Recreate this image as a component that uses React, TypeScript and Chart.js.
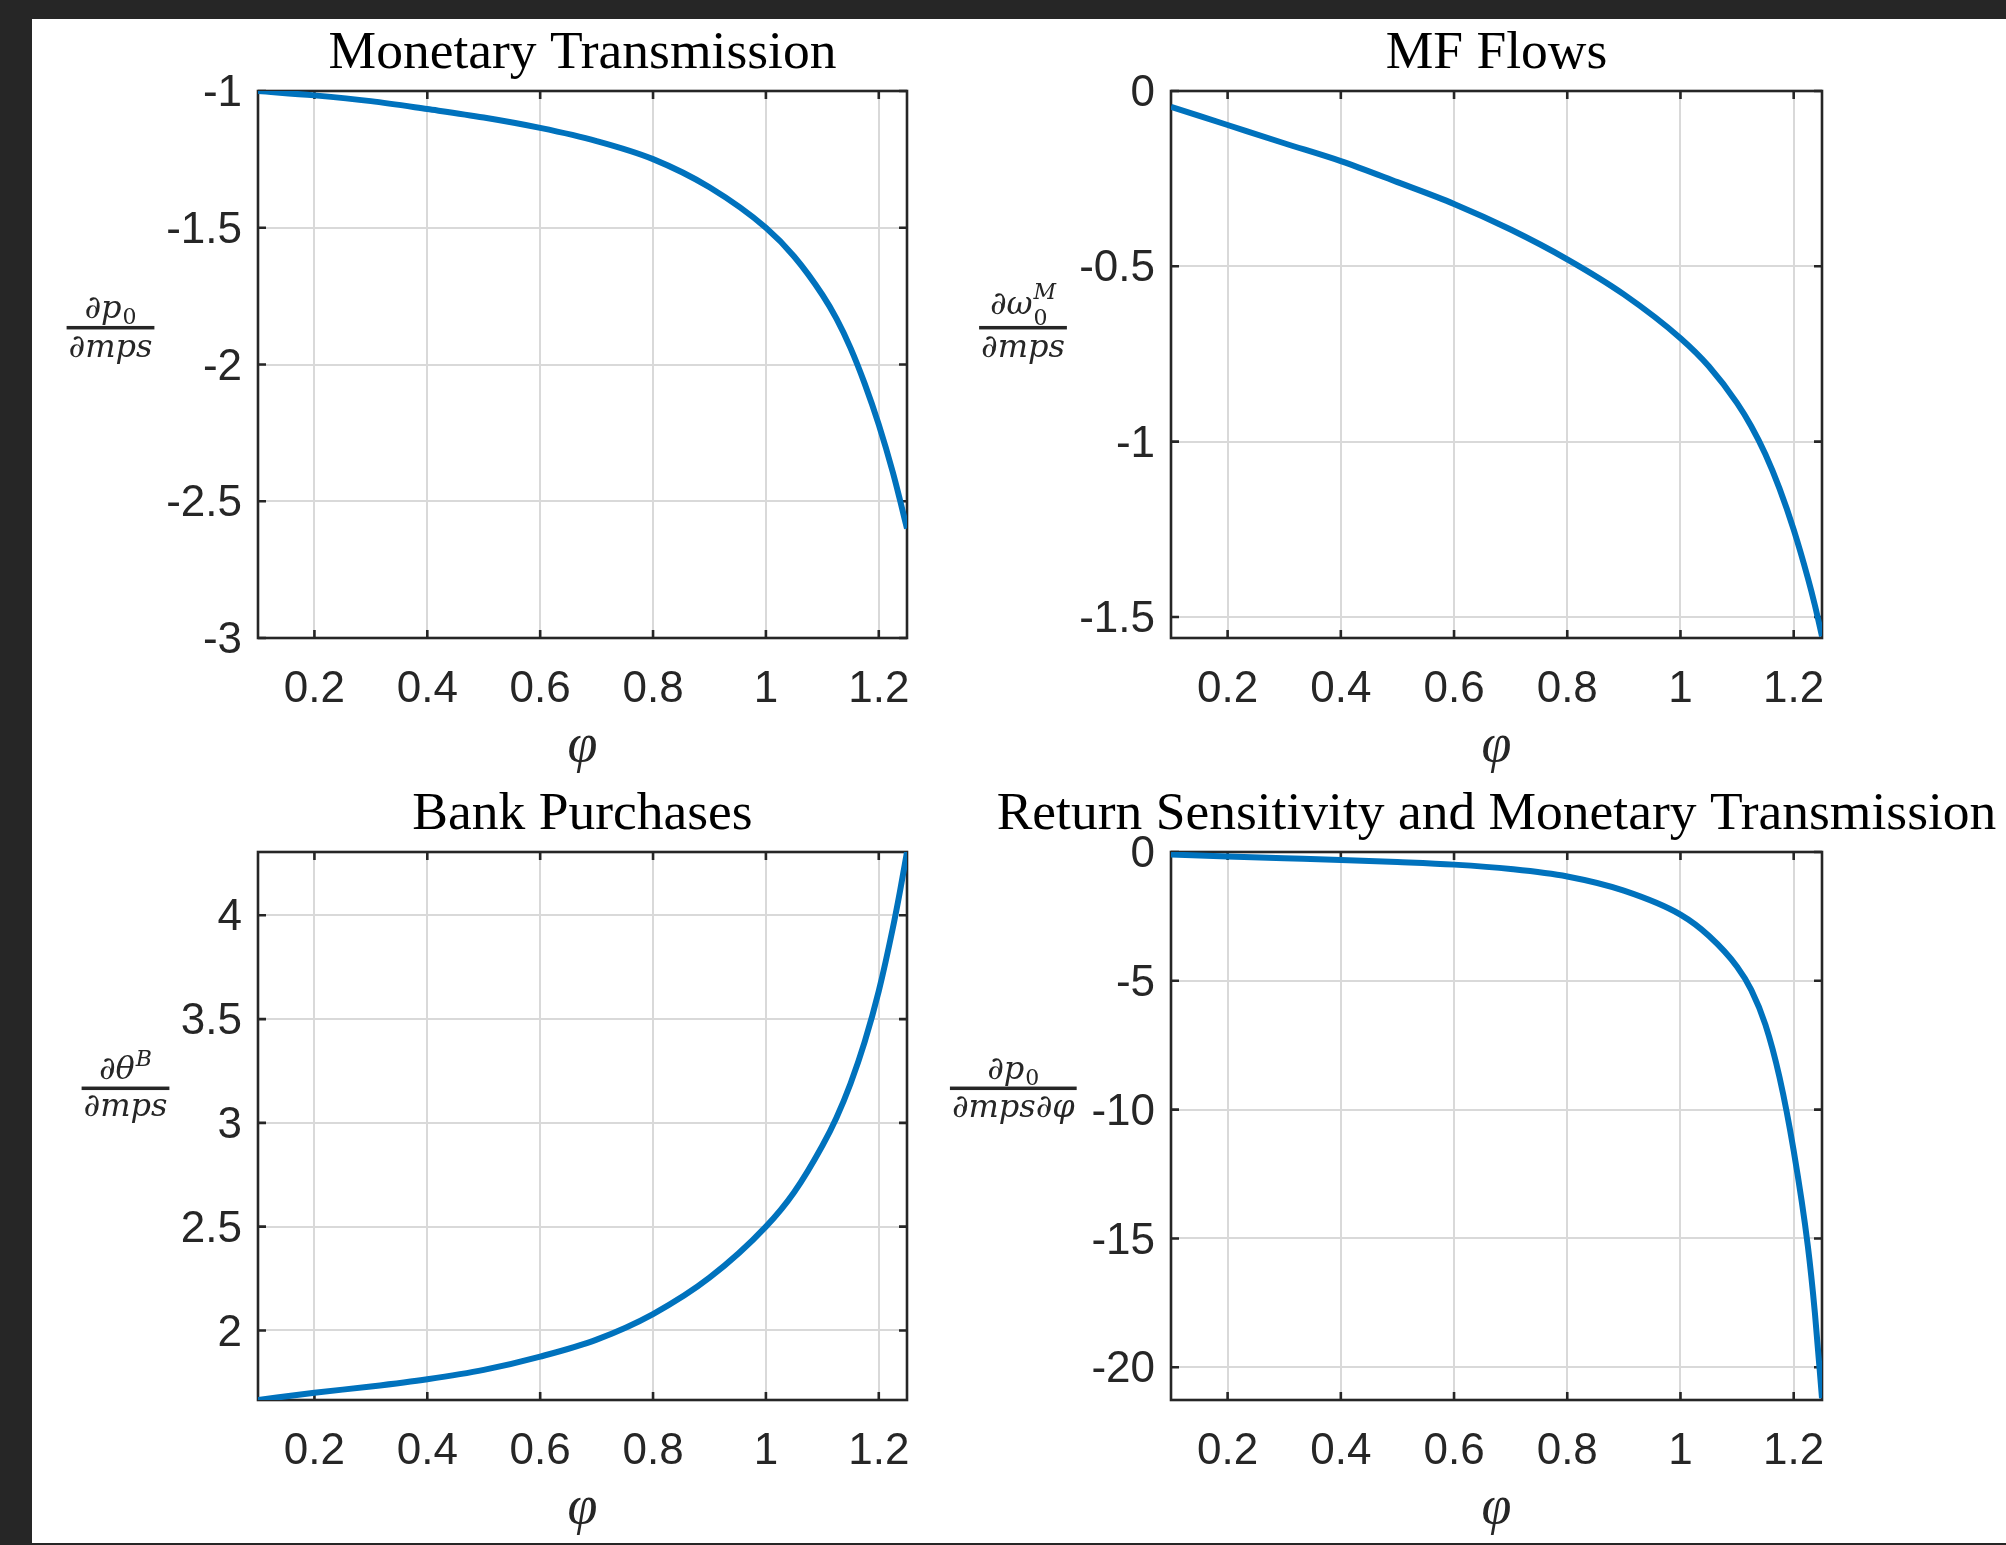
import React, { useEffect, useRef } from 'react';
import { Chart, registerables } from 'chart.js';

Chart.register(...registerables);

// ---------------- data ----------------
const phi = [0.1, 0.2, 0.3, 0.4, 0.5, 0.6, 0.7, 0.8, 0.9, 1.0, 1.05, 1.1, 1.125, 1.15, 1.175, 1.2, 1.225, 1.2375, 1.25];
const monetaryTransmission = [-1.0, -1.016, -1.037, -1.066, -1.097, -1.135, -1.183, -1.249, -1.352, -1.5, -1.605, -1.745, -1.8325, -1.94, -2.07, -2.22, -2.395, -2.495, -2.6];
const mfFlows = [-0.045, -0.097, -0.149, -0.2, -0.26, -0.322, -0.395, -0.48, -0.58, -0.705, -0.785, -0.89, -0.956, -1.036, -1.134, -1.251, -1.389, -1.467, -1.555];
const bankPurchases = [1.665, 1.7, 1.73, 1.765, 1.81, 1.874, 1.956, 2.079, 2.254, 2.5, 2.666, 2.89, 3.025, 3.19, 3.39, 3.635, 3.94, 4.115, 4.305];
const returnSensitivity = [-0.1, -0.17, -0.24, -0.31, -0.39, -0.49, -0.66, -0.95, -1.5, -2.43, -3.25, -4.45, -5.35, -6.7, -8.75, -11.6, -15.3, -17.9, -21.2];

const xTicks = [0.2, 0.4, 0.6, 0.8, 1, 1.2];
const mtTicks = [-3, -2.5, -2, -1.5, -1];
const mfTicks = [-1.5, -1, -0.5, 0];
const bpTicks = [2, 2.5, 3, 3.5, 4];
const rsTicks = [-20, -15, -10, -5, 0];

const xRange = [0.1, 1.25];
const mtRange = [-3, -1];
const mfRange = [-1.56, 0];
const bpRange = [1.665, 4.305];
const rsRange = [-21.27, 0];

const titles = ['Monetary Transmission', 'MF Flows', 'Bank Purchases', 'Return Sensitivity and Monetary Transmission'];
const xLabel = 'φ';

// ---------------- styles ----------------
const AXIS = '#262626';
const GRID = '#d9d9d9';
const BLUE = '#0072BD';
const FRAME = '#262626';
const Y_AXIS_W = 120;
const X_AXIS_H = 80;
const TICK_FONT = { family: '"Liberation Sans", Arial, sans-serif', size: 44, lineHeight: 1.2 };
const MAIN_PX = 32;
const SCRIPT_PX = 22;

type Part =
  | { role: 'main' | 'sub' | 'sup'; text: string; dy?: number }
  | { role: 'subsup'; sub: string; sup: string; subDy: number; supDy: number };

interface FracSpec {
  num: Part[];
  den: Part[];
  dx: number;
  barDy: number;
  numDy: number;
  denDy: number;
}

interface PanelSpec {
  id: string;
  canvas: { left: number; top: number; width: number; height: number };
  area: { L: number; T: number; R: number; B: number };
  ys: number[];
  yTicks: number[];
  yRange: number[];
  title: string;
  frac: FracSpec;
}

function fontFor(role: string, text: string) {
  if (role === 'main') return `italic ${MAIN_PX}px "DejaVu Serif", serif`;
  if (/^[0-9]+$/.test(text)) return `${SCRIPT_PX}px "DejaVu Serif", serif`;
  return `italic ${SCRIPT_PX}px "DejaVu Serif", serif`;
}

function partWidth(ctx: CanvasRenderingContext2D, p: Part) {
  if (p.role === 'subsup') {
    ctx.font = fontFor('sub', p.sub);
    const a = ctx.measureText(p.sub).width;
    ctx.font = fontFor('sup', p.sup);
    const b = ctx.measureText(p.sup).width;
    return Math.max(a, b) + 1;
  }
  ctx.font = fontFor(p.role, p.text);
  return ctx.measureText(p.text).width + (p.role === 'main' ? 0 : 1);
}

function partsWidth(ctx: CanvasRenderingContext2D, parts: Part[]) {
  return parts.reduce((s, p) => s + partWidth(ctx, p), 0);
}

function drawParts(ctx: CanvasRenderingContext2D, parts: Part[], x0: number, baseline: number) {
  let x = x0;
  for (const p of parts) {
    if (p.role === 'subsup') {
      ctx.font = fontFor('sub', p.sub);
      ctx.fillText(p.sub, x + 1, baseline + p.subDy);
      ctx.font = fontFor('sup', p.sup);
      ctx.fillText(p.sup, x + 1, baseline + p.supDy);
    } else {
      ctx.font = fontFor(p.role, p.text);
      ctx.fillText(p.text, x + (p.role === 'main' ? 0 : 1), baseline + (p.dy || 0));
    }
    x += partWidth(ctx, p);
  }
}

function decoPlugin(spec: PanelSpec) {
  return {
    id: 'deco' + spec.id,
    beforeDatasetsDraw(chart: any) {
      const { left, top, right, bottom } = chart.chartArea;
      const ctx: CanvasRenderingContext2D = chart.ctx;
      ctx.save();
      ctx.strokeStyle = AXIS;
      ctx.lineWidth = 2.6;
      ctx.strokeRect(left, top, right - left, bottom - top);
      const xs = chart.scales.x;
      const ys = chart.scales.y;
      ctx.beginPath();
      for (const v of xTicks) {
        const px = xs.getPixelForValue(v);
        ctx.moveTo(px, bottom);
        ctx.lineTo(px, bottom - 8);
        ctx.moveTo(px, top);
        ctx.lineTo(px, top + 8);
      }
      for (const v of spec.yTicks) {
        const py = ys.getPixelForValue(v);
        ctx.moveTo(left, py);
        ctx.lineTo(left + 8, py);
        ctx.moveTo(right, py);
        ctx.lineTo(right - 8, py);
      }
      ctx.stroke();
      ctx.restore();
    },
    afterDraw(chart: any) {
      const { left, top, right, bottom } = chart.chartArea;
      const ctx: CanvasRenderingContext2D = chart.ctx;
      ctx.save();
      ctx.textBaseline = 'alphabetic';
      // title
      ctx.textAlign = 'center';
      ctx.fillStyle = '#000';
      ctx.font = '53.5px "Liberation Serif", serif';
      ctx.fillText(spec.title, (left + right) / 2, top - 23);
      // x label
      ctx.fillStyle = AXIS;
      ctx.font = 'italic 54px "Liberation Serif", serif';
      ctx.fillText(xLabel, (left + right) / 2, bottom + 123);
      // y label fraction
      ctx.textAlign = 'left';
      const f = spec.frac;
      const cx = left + f.dx;
      const barY = (top + bottom) / 2 + f.barDy;
      const numW = partsWidth(ctx, f.num);
      const denW = partsWidth(ctx, f.den);
      const barW = Math.max(numW, denW) + 4;
      ctx.fillStyle = AXIS;
      ctx.fillRect(cx - barW / 2, barY - 1.75, barW, 3.5);
      drawParts(ctx, f.num, cx - numW / 2, barY + f.numDy);
      drawParts(ctx, f.den, cx - denW / 2, barY + f.denDy);
      ctx.restore();
    },
  };
}

const denMps: Part[] = [{ role: 'main', text: '∂mps' }];

const panels: PanelSpec[] = [
  {
    id: 'mt',
    canvas: { left: 32, top: 19, width: 903, height: 762 },
    area: { L: 258, T: 91, R: 907, B: 638 },
    ys: monetaryTransmission,
    yTicks: mtTicks,
    yRange: mtRange,
    title: titles[0],
    frac: {
      num: [{ role: 'main', text: '∂p' }, { role: 'sub', text: '0', dy: 6 }],
      den: denMps,
      dx: -147.5,
      barDy: -36.8,
      numDy: -10,
      denDy: 29,
    },
  },
  {
    id: 'mf',
    canvas: { left: 935, top: 19, width: 1071, height: 762 },
    area: { L: 1171, T: 91, R: 1822, B: 638 },
    ys: mfFlows,
    yTicks: mfTicks,
    yRange: mfRange,
    title: titles[1],
    frac: {
      num: [{ role: 'main', text: '∂ω' }, { role: 'subsup', sub: '0', sup: 'M', subDy: 11, supDy: -15 }],
      den: denMps,
      dx: -148,
      barDy: -36.8,
      numDy: -14,
      denDy: 29,
    },
  },
  {
    id: 'bp',
    canvas: { left: 32, top: 781, width: 903, height: 762 },
    area: { L: 258, T: 852, R: 907, B: 1400 },
    ys: bankPurchases,
    yTicks: bpTicks,
    yRange: bpRange,
    title: titles[2],
    frac: {
      num: [{ role: 'main', text: '∂θ' }, { role: 'sup', text: 'B', dy: -13 }],
      den: denMps,
      dx: -132.5,
      barDy: -37.7,
      numDy: -9,
      denDy: 28,
    },
  },
  {
    id: 'rs',
    canvas: { left: 935, top: 781, width: 1071, height: 762 },
    area: { L: 1171, T: 852, R: 1822, B: 1400 },
    ys: returnSensitivity,
    yTicks: rsTicks,
    yRange: rsRange,
    title: titles[3],
    frac: {
      num: [{ role: 'main', text: '∂p' }, { role: 'sub', text: '0', dy: 6 }],
      den: [{ role: 'main', text: '∂mps∂φ' }],
      dx: -157.7,
      barDy: -37.7,
      numDy: -9,
      denDy: 29,
    },
  },
];

function Panel({ spec }: { spec: PanelSpec }) {
  const ref = useRef<HTMLCanvasElement>(null);
  const { canvas, area } = spec;
  useEffect(() => {
    const el = ref.current;
    if (!el) return;
    const pad = {
      left: area.L - canvas.left - Y_AXIS_W,
      top: area.T - canvas.top,
      right: canvas.left + canvas.width - area.R,
      bottom: canvas.top + canvas.height - area.B - X_AXIS_H,
    };
    const zeroPad = (s: any) => {
      s.paddingLeft = 0;
      s.paddingRight = 0;
      s.paddingTop = 0;
      s.paddingBottom = 0;
    };
    const chart = new Chart(el, {
      type: 'line',
      data: {
        datasets: [
          {
            data: phi.map((x, i) => ({ x, y: spec.ys[i] })),
            borderColor: BLUE,
            borderWidth: 6,
            pointRadius: 0,
            pointHoverRadius: 0,
            cubicInterpolationMode: 'monotone',
            fill: false,
          },
        ],
      },
      options: {
        responsive: false,
        animation: false,
        devicePixelRatio: 1,
        events: [],
        layout: { padding: pad },
        plugins: {
          legend: { display: false },
          tooltip: { enabled: false },
          title: { display: false },
        },
        scales: {
          x: {
            type: 'linear',
            min: xRange[0],
            max: xRange[1],
            afterBuildTicks: (s: any) => {
              s.ticks = xTicks.map((v) => ({ value: v }));
            },
            afterFit: (s: any) => {
              s.height = X_AXIS_H;
              zeroPad(s);
            },
            ticks: {
              autoSkip: false,
              maxRotation: 0,
              minRotation: 0,
              padding: 25,
              color: AXIS,
              font: TICK_FONT,
              callback: (v: any) => String(v),
            },
            grid: { color: GRID, lineWidth: 2, drawTicks: false },
            border: { display: false },
          },
          y: {
            type: 'linear',
            min: spec.yRange[0],
            max: spec.yRange[1],
            afterBuildTicks: (s: any) => {
              s.ticks = spec.yTicks.map((v) => ({ value: v }));
            },
            afterFit: (s: any) => {
              s.width = Y_AXIS_W;
              zeroPad(s);
            },
            ticks: {
              autoSkip: false,
              padding: 16,
              labelOffset: 3,
              color: AXIS,
              font: TICK_FONT,
              callback: (v: any) => String(v),
            },
            grid: { color: GRID, lineWidth: 2, drawTicks: false },
            border: { display: false },
          },
        },
      } as any,
      plugins: [decoPlugin(spec) as any],
    });
    return () => chart.destroy();
  }, []);
  return (
    <canvas
      ref={ref}
      width={canvas.width}
      height={canvas.height}
      style={{ position: 'absolute', left: canvas.left, top: canvas.top, width: canvas.width, height: canvas.height }}
    />
  );
}

export default function App() {
  return (
    <div style={{ position: 'absolute', left: 0, top: 0, width: 2006, height: 1545, background: FRAME, overflow: 'hidden' }}>
      <div style={{ position: 'absolute', left: 32, top: 19, width: 1974, height: 1524, background: '#ffffff' }} />
      {panels.map((p) => (
        <Panel key={p.id} spec={p} />
      ))}
    </div>
  );
}
